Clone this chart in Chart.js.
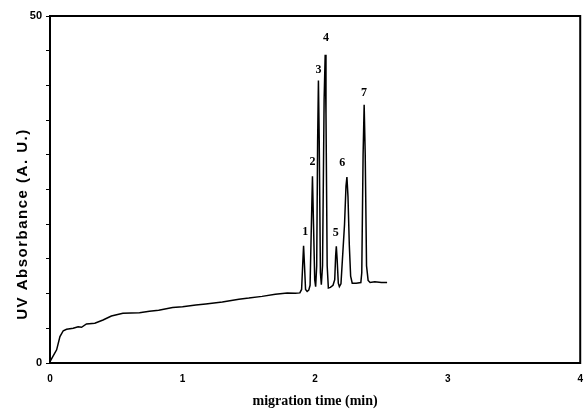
<!DOCTYPE html>
<html>
<head>
<meta charset="utf-8">
<script src="https://cdn.jsdelivr.net/npm/chart.js@4"></script>
<style>
  body { margin: 0; background: #fff; }
</style>
</head>
<body>
<canvas id="myChart" width="585" height="410"></canvas>
<script>
// electropherogram trace
const timeMin = [0, 0.05, 0.075, 0.1, 0.125, 0.175, 0.212, 0.238, 0.275, 0.338, 0.4, 0.463, 0.55,
  0.675, 0.75, 0.82, 0.925, 1.0, 1.1, 1.175, 1.3, 1.425, 1.5, 1.6, 1.7, 1.79, 1.85,
  1.885, 1.898, 1.906, 1.913, 1.92, 1.928, 1.94, 1.952,
  1.962, 1.972, 1.98, 1.988, 1.997, 2.004,
  2.012, 2.019, 2.025, 2.031, 2.04, 2.047,
  2.056, 2.068, 2.076, 2.082, 2.091, 2.1, 2.115, 2.135,
  2.148, 2.155, 2.16, 2.166, 2.175, 2.183,
  2.195, 2.222, 2.233, 2.24, 2.248, 2.258, 2.268, 2.28, 2.31, 2.345,
  2.352, 2.362, 2.37, 2.378, 2.388, 2.4, 2.415, 2.45, 2.5, 2.543]
const absorbance = [0.2, 1.9, 3.8, 4.65, 4.86, 5.0, 5.23, 5.14, 5.62, 5.72, 6.2, 6.77, 7.16,
  7.25, 7.45, 7.6, 8.0, 8.1, 8.35, 8.5, 8.8, 9.2, 9.35, 9.6, 9.9, 10.1, 10.05,
  10.1, 10.6, 14, 16.9, 14, 10.6, 10.3, 10.5,
  11.2, 20, 26.9, 20, 12, 11.0,
  14, 32, 40.7, 32, 13, 11.3,
  14, 38, 44.4, 36, 14, 10.8, 10.9, 11.2,
  12, 15.5, 16.8, 15, 11.5, 11.0,
  11.4, 20, 25.5, 26.8, 24, 17, 12.5, 11.5, 11.5, 11.6,
  13, 30, 37.2, 30, 14, 11.9, 11.6, 11.7, 11.6, 11.6]

// peak numbers and where they sit
const peakNames = ['1', '2', '3', '4', '5', '6', '7']
const peakX = [1.925, 1.98, 2.025, 2.083, 2.155, 2.205, 2.368]
const peakY = [18.9, 29.0, 42.2, 46.8, 18.8, 28.9, 38.9]

const xTicks = [0, 1, 2, 3, 4]
const yLabelled = [0, 50]

const points = timeMin.map((t, i) => ({ x: t, y: absorbance[i] }))

const ctx = document.getElementById('myChart')

const whiteBg = {
  id: 'whiteBg',
  beforeDraw(chart) {
    const c = chart.ctx
    c.save()
    c.fillStyle = '#fff'
    c.fillRect(0, 0, chart.width, chart.height)
    c.restore()
  }
}

const frame = {
  id: 'frame',
  afterDraw(chart) {
    const c = chart.ctx
    const a = chart.chartArea
    c.save()
    c.strokeStyle = '#000'
    c.lineWidth = 2
    c.strokeRect(a.left, a.top, a.right - a.left, a.bottom - a.top)

    // y axis title
    c.translate(23, 224)
    c.rotate(-Math.PI / 2)
    c.fillStyle = '#000'
    c.font = 'bold 15px "Liberation Sans", Arial, sans-serif'
    c.letterSpacing = '1.5px'
    c.textAlign = 'center'
    c.textBaseline = 'middle'
    c.fillText('UV Absorbance (A. U.)', 0, 0)
    c.restore()

    // peak numbers
    const xs = chart.scales.x
    const ys = chart.scales.y
    c.save()
    c.fillStyle = '#000'
    c.font = 'bold 12px "Liberation Serif", "Times New Roman", serif'
    c.textAlign = 'center'
    c.textBaseline = 'middle'
    for (let i = 0; i < peakNames.length; i++) {
      c.fillText(peakNames[i], xs.getPixelForValue(peakX[i]), ys.getPixelForValue(peakY[i]))
    }
    c.restore()
  }
}

new Chart(ctx, {
  type: 'line',
  data: {
    datasets: [{
      data: points,
      borderColor: '#000',
      borderWidth: 1.5,
      pointRadius: 0,
      tension: 0,
      fill: false
    }]
  },
  options: {
    responsive: false,
    animation: false,
    layout: { padding: { top: 16, right: 2, bottom: 0, left: 0 } },
    plugins: {
      legend: { display: false },
      tooltip: { enabled: false }
    },
    scales: {
      x: {
        type: 'linear',
        min: 0,
        max: 4,
        afterBuildTicks: (s) => { s.ticks = xTicks.map(v => ({ value: v })) },
        afterFit: (s) => { s.height = 47 },
        grid: { display: false },
        border: { display: true, color: '#000', width: 2 },
        ticks: {
          color: '#000',
          padding: 2,
          font: { family: 'Liberation Sans, Arial, sans-serif', size: 10, weight: 'bold' }
        },
        title: {
          display: true,
          text: 'migration time (min)',
          color: '#000',
          padding: { top: 0, bottom: 0 },
          font: { family: 'Liberation Serif, Times New Roman, serif', size: 14, weight: 'bold' }
        }
      },
      y: {
        type: 'linear',
        min: 0,
        max: 50,
        afterFit: (s) => { s.width = 50 },
        grid: { drawOnChartArea: false, color: '#000', tickLength: 4, lineWidth: 1 },
        border: { display: true, color: '#000', width: 2 },
        ticks: {
          stepSize: 5,
          color: '#000',
          padding: 4,
          autoSkip: false,
          callback: (v) => yLabelled.includes(v) ? v : '',
          font: { family: 'Liberation Sans, Arial, sans-serif', size: 11, weight: 'bold' }
        }
      }
    }
  },
  plugins: [whiteBg, frame]
})
</script>
</body>
</html>
